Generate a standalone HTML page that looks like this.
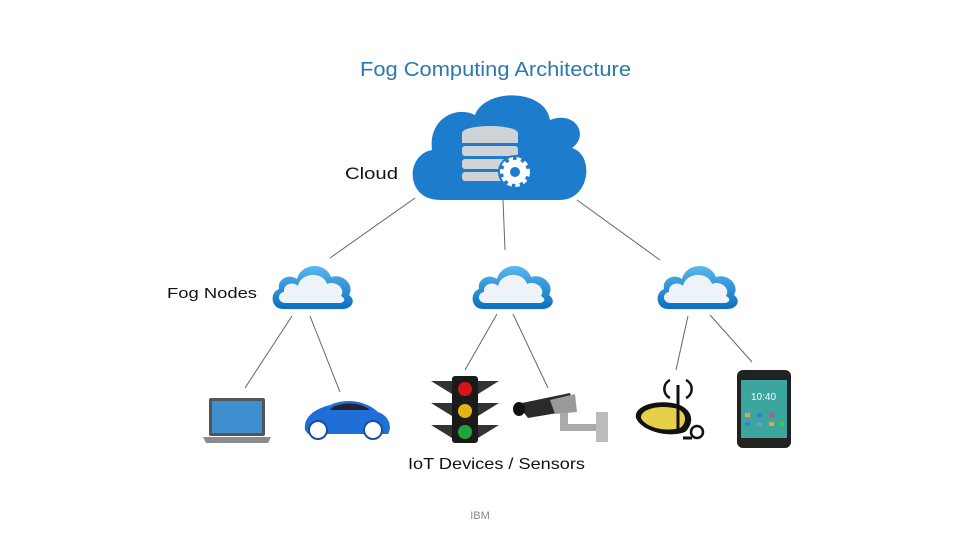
<!DOCTYPE html>
<html><head><meta charset="utf-8"><style>
html,body{margin:0;padding:0;background:#fff;}
svg{display:block;font-family:"Liberation Sans",sans-serif;}
</style></head><body>
<svg width="960" height="540" viewBox="0 0 960 540">
<defs>
<linearGradient id="fg" x1="0" y1="0" x2="0" y2="1"><stop offset="0" stop-color="#5ab8ee"/><stop offset="1" stop-color="#0a6fc0"/></linearGradient>
<symbol id="fog" viewBox="0 0 86 52">
<path d="M14 50 C2 50 0 34 10 30 C8 20 20 14 28 20 C32 4 56 2 62 18 C74 14 86 26 80 36 C88 42 82 50 74 50 Z" fill="url(#fg)"/>
<path d="M17 44 C8 44 8 34 15 33 C14 25 24 22 29 27 C32 13 54 12 58 25 C67 21 77 30 72 37 C78 40 75 44 70 44 Z" fill="#eef3f7"/>
</symbol>
</defs>
<text x="360" y="76" font-size="20" fill="#2b79ad" textLength="271" lengthAdjust="spacingAndGlyphs">Fog Computing Architecture</text>
<!-- big cloud -->
<path d="M440 200 C405 200 405 155 432 150 C428 120 455 105 475 115 C485 88 545 88 550 120 C575 110 590 135 572 148 C595 155 590 200 560 200 Z" fill="#1d7ccb"/>
<ellipse cx="490" cy="133" rx="28" ry="7" fill="#cfd3d6"/>
<rect x="462" y="133" width="56" height="10" fill="#cfd3d6"/>
<rect x="462" y="146" width="56" height="10" rx="3" fill="#cfd3d6"/>
<rect x="462" y="159" width="56" height="10" rx="3" fill="#cfd3d6"/>
<rect x="462" y="172" width="56" height="9" rx="3" fill="#cfd3d6"/>
<circle cx="515" cy="172" r="17" fill="#1d7ccb"/>
<circle cx="515" cy="172" r="12" fill="#fff" stroke="#fff" stroke-width="6" stroke-dasharray="4 3.2"/>
<circle cx="515" cy="172" r="5" fill="#1d7ccb"/>
<text x="345" y="179" font-size="17" fill="#111" textLength="53" lengthAdjust="spacingAndGlyphs">Cloud</text>
<g stroke="#666" stroke-width="1" fill="none">
<line x1="415" y1="198" x2="330" y2="258"/>
<line x1="503" y1="200" x2="505" y2="250"/>
<line x1="577" y1="200" x2="660" y2="260"/>
<line x1="292" y1="316" x2="245" y2="388"/>
<line x1="310" y1="316" x2="340" y2="392"/>
<line x1="497" y1="314" x2="465" y2="370"/>
<line x1="513" y1="314" x2="548" y2="388"/>
<line x1="688" y1="316" x2="676" y2="370"/>
<line x1="710" y1="315" x2="752" y2="362"/>
</g>
<use href="#fog" x="268" y="259" width="88" height="52"/>
<use href="#fog" x="468" y="259" width="88" height="52"/>
<use href="#fog" x="653" y="259" width="88" height="52"/>
<text x="167" y="298" font-size="15" fill="#111" textLength="90" lengthAdjust="spacingAndGlyphs">Fog Nodes</text>
<!-- laptop -->
<rect x="209" y="398" width="56" height="38" rx="2" fill="#555"/>
<rect x="212" y="401" width="50" height="32" fill="#3d8fd0"/>
<path d="M203 437 H271 L268 443 H206 Z" fill="#8a8d90"/>
<!-- car -->
<path d="M305 430 C303 415 318 408 330 405 C345 398 365 400 378 412 C390 416 392 428 388 434 H308 Z" fill="#1f6fd6"/>
<path d="M333 407 C345 402 360 402 370 410 H330 Z" fill="#223"/>
<circle cx="318" cy="430" r="9" fill="#fff" stroke="#1a4f99" stroke-width="2"/>
<circle cx="373" cy="430" r="9" fill="#fff" stroke="#1a4f99" stroke-width="2"/>
<!-- traffic light -->
<rect x="452" y="376" width="26" height="67" rx="3" fill="#1a1a1a"/>
<path d="M431 381 H452 V394 Z M499 381 H478 V394 Z M431 403 H452 V416 Z M499 403 H478 V416 Z M431 425 H452 V438 Z M499 425 H478 V438 Z" fill="#333"/>
<circle cx="465" cy="389" r="7" fill="#d8141a"/>
<circle cx="465" cy="411" r="7" fill="#e3b418"/>
<circle cx="465" cy="432" r="7" fill="#1ea43a"/>
<!-- camera -->
<path d="M517 404 L570 393 L575 410 L528 418 Z" fill="#2a2a2a"/>
<path d="M550 400 L575 394 L577 412 L555 414 Z" fill="#999"/>
<rect x="560" y="413" width="8" height="18" fill="#aaa"/>
<rect x="560" y="424" width="40" height="7" fill="#aaa"/>
<rect x="596" y="412" width="12" height="30" fill="#bbb"/>
<ellipse cx="519" cy="409" rx="6" ry="7" fill="#111"/>
<!-- router -->
<path d="M636 418 C633 405 660 398 680 405 C695 412 693 425 685 432 C670 438 642 432 636 418 Z" fill="#111"/>
<path d="M641 418 C640 409 660 404 678 409 C688 414 686 424 680 428 C666 432 646 428 641 418 Z" fill="#e6d04a"/>
<line x1="678" y1="385" x2="678" y2="432" stroke="#111" stroke-width="3"/>
<path d="M670 380 A10 10 0 0 0 670 398 M686 380 A10 10 0 0 1 686 398" stroke="#111" stroke-width="2.5" fill="none"/>
<path d="M683 438 H692" stroke="#111" stroke-width="3"/>
<circle cx="697" cy="432" r="6" fill="none" stroke="#111" stroke-width="2.5"/>
<!-- phone -->
<rect x="737" y="370" width="54" height="78" rx="6" fill="#222"/>
<rect x="741" y="380" width="46" height="58" fill="#3ba59e"/>
<text x="751" y="400" font-size="10" fill="#fff">10:40</text>
<g fill="#e8a33c"><rect x="745" y="413" width="5" height="4"/><rect x="757" y="413" width="5" height="4" fill="#3a7de0"/><rect x="769" y="413" width="5" height="4" fill="#e04a6a"/><rect x="745" y="422" width="5" height="4" fill="#3a7de0"/><rect x="757" y="422" width="5" height="4" fill="#69c"/><rect x="769" y="422" width="5" height="4"/><rect x="779" y="422" width="5" height="4" fill="#3c3"/></g>
<text x="408" y="469" font-size="16" fill="#111" textLength="177" lengthAdjust="spacingAndGlyphs">IoT Devices / Sensors</text>
<text x="480" y="519" font-size="11" fill="#888" text-anchor="middle">IBM</text>
</svg>
</body></html>
